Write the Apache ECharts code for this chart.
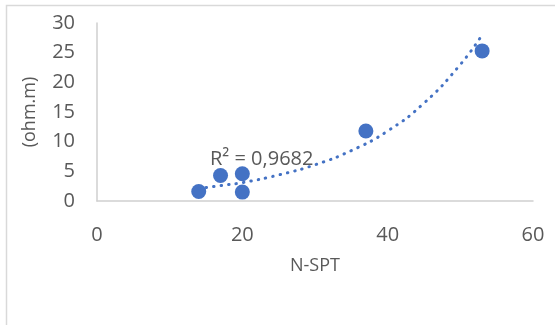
<!DOCTYPE html>
<html>
<head>
<meta charset="utf-8">
<script src="https://cdn.jsdelivr.net/npm/echarts@6/dist/echarts.min.js"></script>
<style>
html,body{margin:0;padding:0;background:#fff;}
#c{width:555px;height:325px;}
</style>
</head>
<body>
<div id="c"></div>
<script>
// Observed data (N-SPT vs resistivity)
var nspt = [14, 17, 20, 20, 37, 53];
var resistivity = [1.6, 4.3, 4.6, 1.5, 11.8, 25.3];
// Trendline values
var trendX = [14, 17, 20, 25, 30, 35, 40, 45, 50, 53];
var trendY = [2.1, 2.6, 3.1, 4.4, 6.1, 8.5, 11.8, 16.5, 23.0, 28.0];
var xTicks = [0, 20, 40, 60];
var yTicks = [0, 5, 10, 15, 20, 25, 30];
var r2Label = 'R² = 0,9682';

var pts = nspt.map(function (x, i) { return [x, resistivity[i]]; });
var trend = trendX.map(function (x, i) { return [x, trendY[i]]; });

var chart = echarts.init(document.getElementById('c'), null, {renderer: 'canvas'});
var font = '"Open Sans", "Liberation Sans", sans-serif';
chart.setOption({
  animation: false,
  backgroundColor: '#ffffff',
  textStyle: {fontFamily: font},
  grid: {left: 97, right: 22, top: 23, bottom: 124},
  graphic: [
    {type: 'rect', shape: {x: 6.5, y: 5.5, width: 600, height: 400},
     style: {fill: 'none', stroke: '#D9D9D9', lineWidth: 1.5}, silent: true, z: -1},
    {type: 'text', left: 210, top: 149,
     style: {text: r2Label, font: '20px ' + font, fill: '#595959'}, z: 10}
  ],
  xAxis: {
    type: 'value', min: xTicks[0], max: xTicks[xTicks.length - 1], interval: 20,
    name: 'N-SPT', nameLocation: 'middle', nameGap: 56,
    nameTextStyle: {fontSize: 18, color: '#595959', fontFamily: font},
    axisLine: {show: true, lineStyle: {color: '#CFCFCF', width: 1.5}},
    axisTick: {show: false},
    splitLine: {show: false},
    axisLabel: {fontSize: 20, color: '#595959', margin: 24, fontFamily: font}
  },
  yAxis: {
    type: 'value', min: yTicks[0], max: yTicks[yTicks.length - 1], interval: 5,
    name: '(ohm.m)', nameLocation: 'middle', nameGap: 58, nameRotate: 90,
    nameTextStyle: {fontSize: 18, color: '#595959', fontFamily: font},
    axisLine: {show: true, lineStyle: {color: '#CFCFCF', width: 1.5}},
    axisTick: {show: false},
    splitLine: {show: false},
    axisLabel: {fontSize: 20, color: '#595959', margin: 22, fontFamily: font}
  },
  series: [
    {
      type: 'scatter', data: pts, symbol: 'circle', symbolSize: 15,
      itemStyle: {color: '#4472C4', opacity: 1}, z: 2
    },
    {
      type: 'line', data: trend, smooth: true, showSymbol: false,
      lineStyle: {color: '#4472C4', width: 3, type: [0.5, 7], cap: 'round'}, z: 3
    }
  ]
});
</script>
</body>
</html>
